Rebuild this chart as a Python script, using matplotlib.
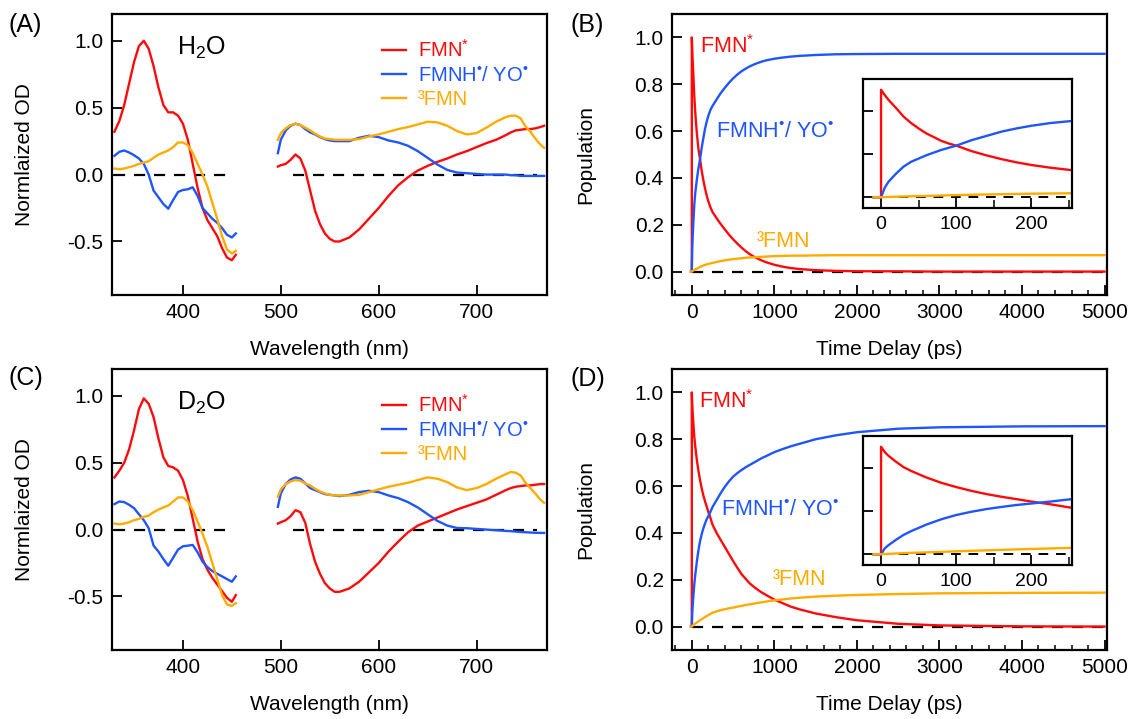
import numpy as np
import matplotlib
matplotlib.use("Agg")
import matplotlib.pyplot as plt

plt.rcParams['font.family'] = ['Liberation Sans', 'DejaVu Sans']
plt.rcParams['mathtext.fontset'] = 'custom'
plt.rcParams['mathtext.rm'] = 'Liberation Sans'
plt.rcParams['mathtext.it'] = 'Liberation Sans'
plt.rcParams['mathtext.bf'] = 'Liberation Sans:bold'

RED = '#ff0a0a'
BLUE = '#1f55ff'
ORANGE = '#ffab00'

# %% spectra data (wavelength in nm)
wl_uv = [330, 335, 340, 345, 350, 355, 360, 365, 370, 375, 380, 385, 390,
         395, 400, 405, 410, 415, 420, 425, 430, 435, 440, 445, 450, 454]
wl_vis = [497, 500, 505, 510, 515, 520, 525, 530, 535, 540, 545, 550, 555,
          560, 570, 580, 590, 600, 610, 620, 630, 640, 650, 660, 670, 680,
          690, 700, 710, 720, 730, 735, 740, 745, 750, 755, 760, 765, 769]

# H2O
h2o_fmn_uv = [0.32, 0.40, 0.52, 0.68, 0.84, 0.96, 1.00, 0.94, 0.81, 0.65, 0.52, 0.465, 0.465,
              0.44, 0.38, 0.26, 0.08, -0.10, -0.25, -0.34, -0.40, -0.46, -0.55, -0.62, -0.64, -0.60]
h2o_rad_uv = [0.14, 0.17, 0.18, 0.165, 0.145, 0.12, 0.08, 0.0, -0.12, -0.17, -0.22, -0.255, -0.19,
              -0.13, -0.115, -0.11, -0.095, -0.16, -0.25, -0.29, -0.33, -0.36, -0.40, -0.45, -0.47, -0.44]
h2o_trip_uv = [0.045, 0.04, 0.045, 0.055, 0.065, 0.08, 0.09, 0.10, 0.125, 0.15, 0.165, 0.18, 0.205,
               0.24, 0.24, 0.22, 0.16, 0.08, 0.0, -0.09, -0.21, -0.33, -0.46, -0.56, -0.59, -0.57]
h2o_fmn_vis = [0.06, 0.07, 0.08, 0.11, 0.15, 0.12, 0.03, -0.12, -0.27, -0.37, -0.44, -0.48, -0.50,
               -0.50, -0.47, -0.41, -0.33, -0.25, -0.16, -0.08, -0.02, 0.03, 0.065, 0.095, 0.12, 0.15,
               0.175, 0.205, 0.235, 0.26, 0.295, 0.315, 0.33, 0.335, 0.34, 0.34, 0.345, 0.355, 0.365]
h2o_rad_vis = [0.16, 0.26, 0.33, 0.365, 0.38, 0.37, 0.34, 0.315, 0.30, 0.28, 0.265, 0.255, 0.25,
               0.25, 0.25, 0.275, 0.29, 0.28, 0.255, 0.24, 0.215, 0.175, 0.125, 0.075, 0.035, 0.015,
               0.01, 0.005, 0.0, 0.0, 0.0, -0.005, -0.005, -0.01, -0.01, -0.01, -0.01, -0.01, -0.01]
h2o_trip_vis = [0.26, 0.31, 0.345, 0.37, 0.38, 0.37, 0.35, 0.33, 0.305, 0.285, 0.27, 0.265, 0.26,
                0.26, 0.26, 0.265, 0.285, 0.30, 0.32, 0.34, 0.355, 0.375, 0.395, 0.39, 0.365, 0.325,
                0.30, 0.31, 0.35, 0.395, 0.43, 0.44, 0.44, 0.42, 0.36, 0.32, 0.27, 0.225, 0.20]

# D2O
d2o_fmn_uv = [0.39, 0.44, 0.50, 0.60, 0.74, 0.90, 0.98, 0.94, 0.84, 0.68, 0.54, 0.475, 0.465,
              0.44, 0.37, 0.25, 0.08, -0.09, -0.22, -0.30, -0.36, -0.41, -0.46, -0.51, -0.54, -0.49]
d2o_rad_uv = [0.19, 0.21, 0.205, 0.185, 0.16, 0.115, 0.07, 0.01, -0.12, -0.165, -0.22, -0.27, -0.21,
              -0.15, -0.125, -0.12, -0.115, -0.17, -0.24, -0.28, -0.31, -0.33, -0.35, -0.37, -0.39, -0.35]
d2o_trip_uv = [0.045, 0.04, 0.045, 0.055, 0.07, 0.08, 0.095, 0.105, 0.13, 0.15, 0.165, 0.18, 0.21,
               0.24, 0.24, 0.21, 0.145, 0.06, -0.03, -0.13, -0.25, -0.37, -0.49, -0.56, -0.57, -0.55]
d2o_fmn_vis = [0.045, 0.055, 0.07, 0.10, 0.145, 0.13, 0.05, -0.11, -0.24, -0.33, -0.40, -0.44, -0.465,
               -0.465, -0.44, -0.39, -0.32, -0.25, -0.165, -0.09, -0.02, 0.03, 0.06, 0.09, 0.12, 0.15,
               0.175, 0.20, 0.225, 0.26, 0.295, 0.31, 0.32, 0.325, 0.33, 0.33, 0.335, 0.34, 0.34]
d2o_rad_vis = [0.17, 0.27, 0.34, 0.375, 0.39, 0.38, 0.345, 0.31, 0.295, 0.28, 0.265, 0.26, 0.255,
               0.25, 0.26, 0.28, 0.29, 0.28, 0.255, 0.235, 0.205, 0.165, 0.115, 0.065, 0.03, 0.012,
               0.01, 0.005, 0.0, -0.005, -0.01, -0.012, -0.015, -0.018, -0.02, -0.022, -0.024, -0.025, -0.025]
d2o_trip_vis = [0.245, 0.30, 0.34, 0.36, 0.37, 0.365, 0.345, 0.33, 0.305, 0.285, 0.27, 0.26, 0.255,
                0.255, 0.255, 0.26, 0.28, 0.30, 0.32, 0.335, 0.35, 0.37, 0.39, 0.38, 0.355, 0.315,
                0.295, 0.31, 0.34, 0.38, 0.415, 0.43, 0.425, 0.405, 0.35, 0.31, 0.27, 0.225, 0.20]

zero_spans = [(330, 445), (512, 762)]

# %% kinetics data (time in ps)
t_ps = [-10, 0, 0, 5, 10, 20, 30, 40, 50, 60, 70, 80, 90, 100, 120, 140, 160, 180, 200, 225,
        250, 300, 350, 400, 450, 500, 550, 600, 650, 700, 750, 800, 850, 900, 1000, 1100,
        1200, 1300, 1500, 1750, 2000, 2500, 3000, 4000, 5000]

h2o_pop_fmn = [0, 0, 1.0, 0.95, 0.905, 0.83, 0.75, 0.69, 0.64, 0.595, 0.56, 0.525, 0.50, 0.48, 0.43,
               0.39, 0.355, 0.325, 0.30, 0.275,
               0.255, 0.228, 0.203, 0.18, 0.158, 0.138, 0.12, 0.103, 0.088, 0.075, 0.064, 0.055,
               0.047, 0.04, 0.029, 0.021, 0.015, 0.011, 0.006, 0.003, 0.0015, 0.001, 0.0, 0.0, 0.0]
h2o_pop_rad = [0, 0, 0, 0.09, 0.145, 0.22, 0.285, 0.33, 0.36, 0.39, 0.415, 0.44, 0.46, 0.48, 0.53,
               0.57, 0.61, 0.64, 0.665, 0.69,
               0.707, 0.735, 0.762, 0.785, 0.806, 0.825, 0.841, 0.855, 0.866, 0.876, 0.884, 0.891,
               0.897, 0.902, 0.909, 0.914, 0.918, 0.921, 0.925, 0.928, 0.929, 0.93, 0.93, 0.93, 0.93]
h2o_pop_trip = [0, 0, 0, 0.002, 0.003, 0.005, 0.007, 0.009, 0.011, 0.012, 0.014, 0.016, 0.018, 0.02,
                0.023, 0.026, 0.028, 0.031, 0.033, 0.035,
                0.037, 0.041, 0.045, 0.048, 0.051, 0.053, 0.055, 0.057, 0.059, 0.06, 0.061, 0.062,
                0.063, 0.064, 0.066, 0.067, 0.068, 0.068, 0.069, 0.07, 0.07, 0.07, 0.07, 0.07, 0.07]

d2o_pop_fmn = [0, 0, 1.0, 0.95, 0.915, 0.86, 0.81, 0.775, 0.745, 0.715, 0.69, 0.665, 0.645, 0.625,
               0.59, 0.56, 0.535, 0.513, 0.49, 0.465,
               0.436, 0.40, 0.37, 0.34, 0.31, 0.28, 0.252, 0.225, 0.205, 0.185, 0.17, 0.157,
               0.145, 0.135, 0.115, 0.10, 0.085, 0.074, 0.056, 0.04, 0.027, 0.012, 0.005, 0.001, 0.0]
d2o_pop_rad = [0, 0, 0, 0.055, 0.085, 0.135, 0.18, 0.215, 0.245, 0.275, 0.30, 0.325, 0.345, 0.365,
               0.395, 0.42, 0.44, 0.458, 0.472, 0.49,
               0.51, 0.54, 0.57, 0.597, 0.62, 0.64, 0.655, 0.668, 0.68, 0.69, 0.70, 0.71,
               0.72, 0.728, 0.745, 0.758, 0.77, 0.78, 0.80, 0.817, 0.83, 0.845, 0.851, 0.855, 0.856]
d2o_pop_trip = [0, 0, 0, 0.002, 0.004, 0.007, 0.01, 0.013, 0.015, 0.017, 0.02, 0.022, 0.025, 0.027,
                0.032, 0.036, 0.041, 0.045, 0.049, 0.054,
                0.059, 0.065, 0.07, 0.074, 0.078, 0.081, 0.085, 0.088, 0.092, 0.095, 0.098, 0.101,
                0.104, 0.107, 0.112, 0.116, 0.12, 0.123, 0.128, 0.132, 0.135, 0.139, 0.142, 0.144, 0.145]

labels = ['FMN$^{*}$', 'FMNH$^{\u2022}$/ YO$^{\u2022}$', '³FMN']
colors = [RED, BLUE, ORANGE]

fig = plt.figure(figsize=(11.3, 7.19), dpi=100)
W, H = 1130, 719
FS = 15
LW = 1.7


def px_axes(l, t, r, b):
    return fig.add_axes([l / W, 1 - b / H, (r - l) / W, (b - t) / H])


def style(ax, size=FS):
    for s in ax.spines.values():
        s.set_linewidth(1.6)
    ax.tick_params(direction='in', length=7, width=1.3, labelsize=size, pad=6)
    ax.tick_params(which='minor', direction='in', length=3.5, width=1.1)
    ax.tick_params(top=False, right=False)


def spectra(ax, uv, vis, solvent):
    lines = []
    for k in range(3):
        ln, = ax.plot(wl_uv, uv[k], color=colors[k], lw=LW, label=labels[k])
        ax.plot(wl_vis, vis[k], color=colors[k], lw=LW)
        lines.append(ln)
    for a, b in zero_spans:
        ax.hlines(0, a, b, colors='k', linestyles=(0, (5, 4)), lw=1.6, zorder=1)
    ax.set_xlim(327, 772)
    ax.set_ylim(-0.9, 1.2)
    ax.set_xticks([400, 500, 600, 700])
    ax.set_yticks([-0.5, 0.0, 0.5, 1.0])
    ax.set_yticklabels(['-0.5', '0.0', '0.5', '1.0'])
    style(ax)
    ax.set_xlabel('Wavelength (nm)', fontsize=FS)
    ax.set_ylabel('Normlaized OD', fontsize=FS)
    ax.xaxis.set_label_coords(0.5, -0.16)
    ax.yaxis.set_label_coords(-0.178, 0.5)
    ax.text(394, 0.945, solvent, fontsize=18, va='center', ha='left')
    ax.legend(handles=lines, loc='upper left', bbox_to_anchor=(0.62, 0.91),
              frameon=False, fontsize=14.5, handlelength=1.2, handletextpad=0.6,
              labelspacing=0.25, borderpad=0, borderaxespad=0, labelcolor='linecolor')


def kinetics(ax, pops, lab_pos, inset_box):
    for k in range(3):
        ax.plot(t_ps, pops[k], color=colors[k], lw=LW)
    ax.hlines(0, 0, 5000, colors='k', linestyles=(0, (5, 4)), lw=1.6, zorder=1)
    ax.set_xlim(-240, 5030)
    ax.set_ylim(-0.1, 1.1)
    ax.set_xticks(range(0, 5001, 1000))
    ax.set_xticks(range(-200, 5001, 200), minor=True)
    ax.set_yticks([0.0, 0.2, 0.4, 0.6, 0.8, 1.0])
    ax.set_yticklabels(['0.0', '0.2', '0.4', '0.6', '0.8', '1.0'])
    style(ax)
    ax.set_xlabel('Time Delay (ps)', fontsize=FS)
    ax.set_ylabel('Population', fontsize=FS)
    ax.xaxis.set_label_coords(0.5, -0.16)
    ax.yaxis.set_label_coords(-0.177, 0.5)
    for k in range(3):
        ax.text(lab_pos[k][0], lab_pos[k][1], labels[k], color=colors[k],
                fontsize=15.5, ha='center', va='center')

    ins = px_axes(*inset_box)
    for k in range(3):
        ins.plot(t_ps, pops[k], color=colors[k], lw=LW)
    ins.hlines(0, 0, 250, colors='k', linestyles=(0, (5, 4)), lw=1.4, zorder=1)
    ins.set_xlim(-24, 254)
    ins.set_ylim(-0.1, 1.1)
    ins.set_xticks([0, 100, 200])
    ins.set_xticks([50, 150, 250], minor=True)
    ins.set_yticks([0.0, 0.4, 0.8])
    ins.set_yticklabels([])
    style(ins, size=14)
    ins.tick_params(which='minor', length=6)


axA = px_axes(111.5, 14, 547, 295)
spectra(axA, [h2o_fmn_uv, h2o_rad_uv, h2o_trip_uv], [h2o_fmn_vis, h2o_rad_vis, h2o_trip_vis], 'H$_2$O')
axC = px_axes(111.5, 369, 547, 650)
spectra(axC, [d2o_fmn_uv, d2o_rad_uv, d2o_trip_uv], [d2o_fmn_vis, d2o_rad_vis, d2o_trip_vis], 'D$_2$O')

axB = px_axes(672, 14, 1107, 295)
kinetics(axB, [h2o_pop_fmn, h2o_pop_rad, h2o_pop_trip],
         [(432, 0.96), (1004, 0.597), (1114, 0.128)], (863, 79, 1072, 208))
axD = px_axes(672, 369, 1107, 650)
kinetics(axD, [d2o_pop_fmn, d2o_pop_rad, d2o_pop_trip],
         [(414, 0.96), (1075, 0.498), (1308, 0.199)], (863, 436, 1072, 565))

for lab, x, y in [('(A)', 9, 25), ('(B)', 570, 25), ('(C)', 9, 378), ('(D)', 570, 379)]:
    fig.text(x / W, 1 - y / H, lab, fontsize=18, va='center', ha='left')

fig.savefig('out.png', dpi=100)
